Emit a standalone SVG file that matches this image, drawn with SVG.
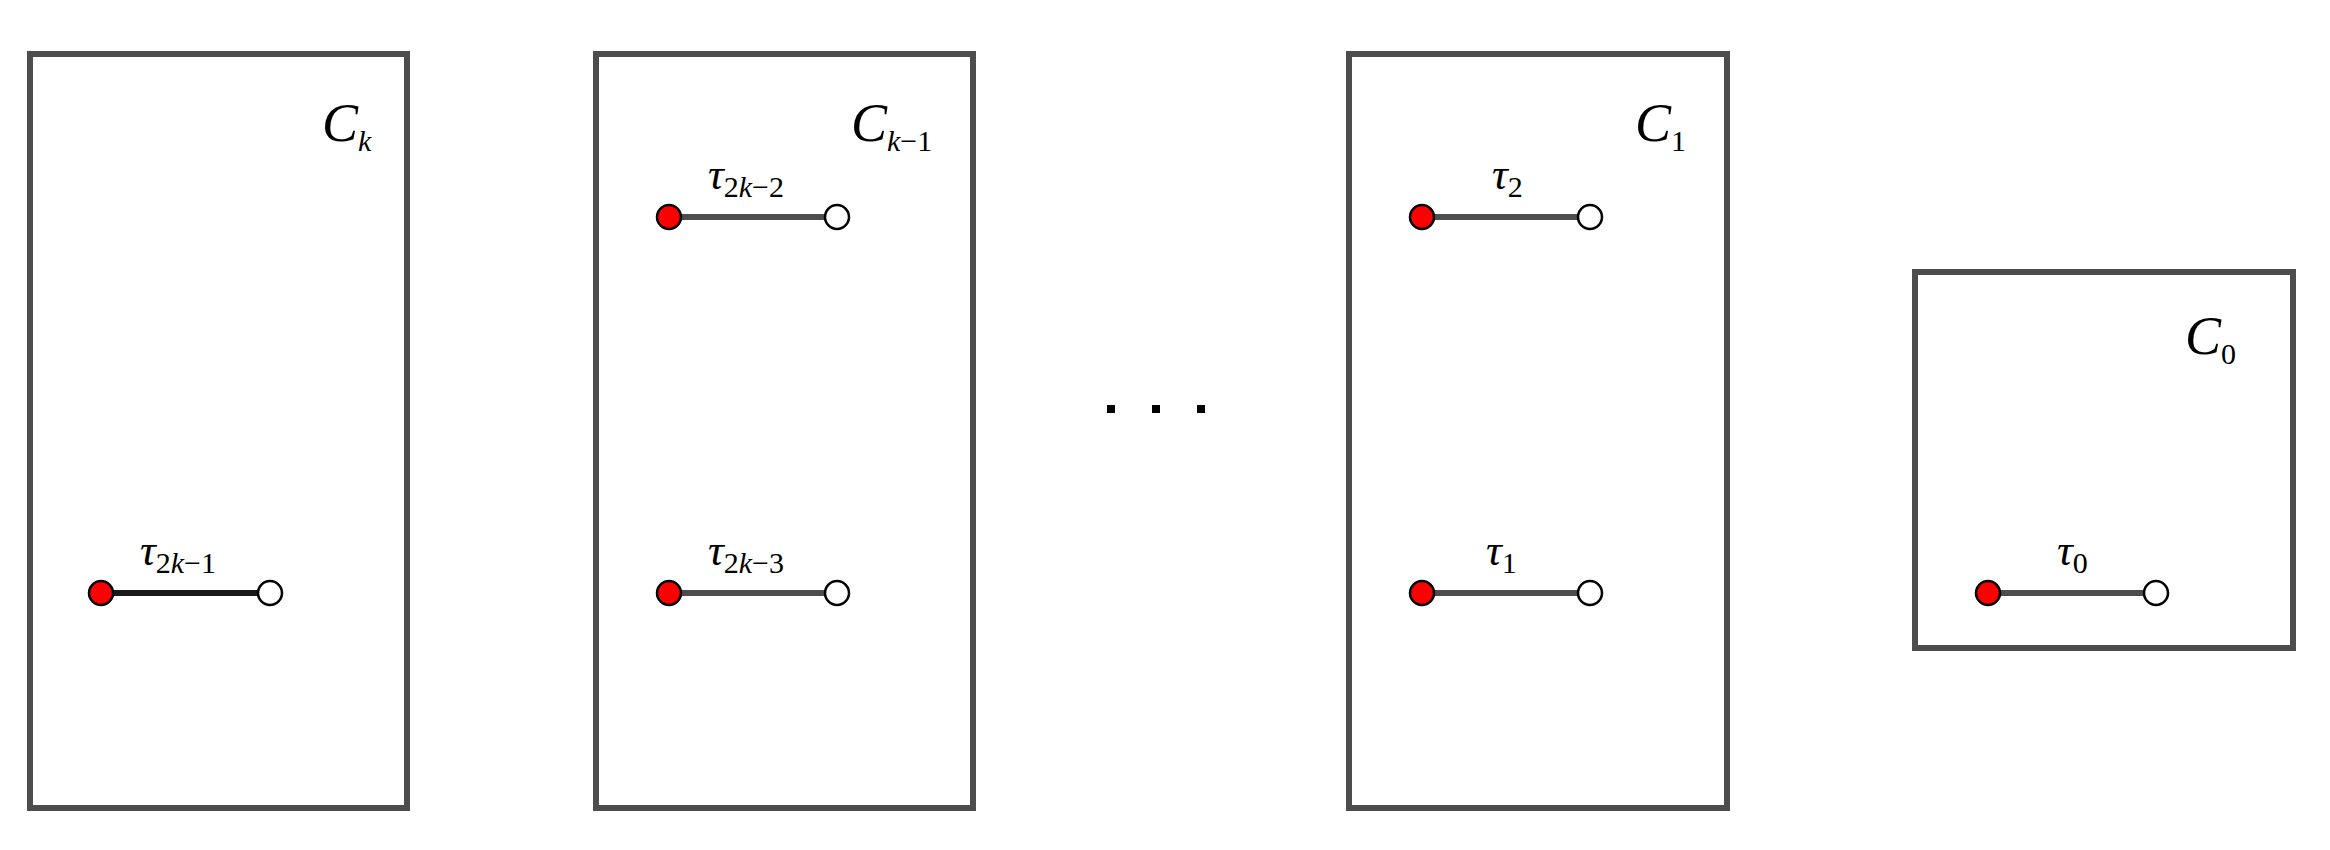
<svg xmlns="http://www.w3.org/2000/svg" width="2330" height="850" viewBox="0 0 2330 850">
<style>
.box{fill:none;stroke:#4d4d4d;stroke-width:6;stroke-linecap:round}
.seg{stroke:#4d4d4d;stroke-width:6}
.red{fill:#ff0000;stroke:#000;stroke-width:2.5}
.wh{fill:#fff;stroke:#000;stroke-width:2.5}
.C{font-family:"Liberation Serif",serif;font-style:italic;font-size:54px;fill:#000}
.t{font-family:"Liberation Serif",serif;font-style:italic;font-size:44px;fill:#000}
.s{font-size:30px;font-style:normal}
.si{font-size:30px}
</style>
<rect width="2330" height="850" fill="#fff"/>
<g id="Ck">
<rect class="box" x="30" y="54" width="377" height="754"/>
<text class="C" x="322" y="141">C<tspan class="si" dy="10">k</tspan></text>
</g>
<g id="Ck1">
<rect class="box" x="596" y="54" width="377" height="754"/>
<text class="C" x="851" y="141">C<tspan class="si" dy="10">k</tspan><tspan class="s">−1</tspan></text>
</g>
<g id="C1">
<rect class="box" x="1349" y="54" width="378" height="754"/>
<text class="C" x="1635" y="141">C<tspan class="s" dy="10">1</tspan></text>
</g>
<g id="C0">
<rect class="box" x="1915" y="272" width="378" height="376"/>
<text class="C" x="2185" y="354">C<tspan class="s" dy="10">0</tspan></text>
</g>
<g id="dots" fill="#000">
<rect x="1107" y="405" width="8" height="8"/>
<rect x="1152" y="405" width="8" height="8"/>
<rect x="1197" y="405" width="8" height="8"/>
</g>
<g id="connectors">
<line class="seg" style="stroke:#1a1a1a" x1="101" y1="593" x2="270" y2="593"/>
<line class="seg" x1="669" y1="217" x2="837" y2="217"/>
<line class="seg" x1="669" y1="593" x2="837" y2="593"/>
<line class="seg" x1="1422" y1="217" x2="1590" y2="217"/>
<line class="seg" x1="1422" y1="593" x2="1590" y2="593"/>
<line class="seg" x1="1988" y1="593" x2="2156" y2="593"/>
</g>
<g id="tau">
<circle class="red" cx="101" cy="593" r="12"/><circle class="wh" cx="270" cy="593" r="12"/>
<text class="t" x="140" y="565">τ<tspan class="s" dy="8">2</tspan><tspan class="si">k</tspan><tspan class="s">−1</tspan></text>
<circle class="red" cx="669" cy="217" r="12"/><circle class="wh" cx="837" cy="217" r="12"/>
<text class="t" x="708" y="189">τ<tspan class="s" dy="8">2</tspan><tspan class="si">k</tspan><tspan class="s">−2</tspan></text>
<circle class="red" cx="669" cy="593" r="12"/><circle class="wh" cx="837" cy="593" r="12"/>
<text class="t" x="708" y="565">τ<tspan class="s" dy="8">2</tspan><tspan class="si">k</tspan><tspan class="s">−3</tspan></text>
<circle class="red" cx="1422" cy="217" r="12"/><circle class="wh" cx="1590" cy="217" r="12"/>
<text class="t" x="1492" y="189">τ<tspan class="s" dy="8">2</tspan></text>
<circle class="red" cx="1422" cy="593" r="12"/><circle class="wh" cx="1590" cy="593" r="12"/>
<text class="t" x="1486" y="565">τ<tspan class="s" dy="8">1</tspan></text>
<circle class="red" cx="1988" cy="593" r="12"/><circle class="wh" cx="2156" cy="593" r="12"/>
<text class="t" x="2057" y="565">τ<tspan class="s" dy="8">0</tspan></text>
</g>
</svg>
